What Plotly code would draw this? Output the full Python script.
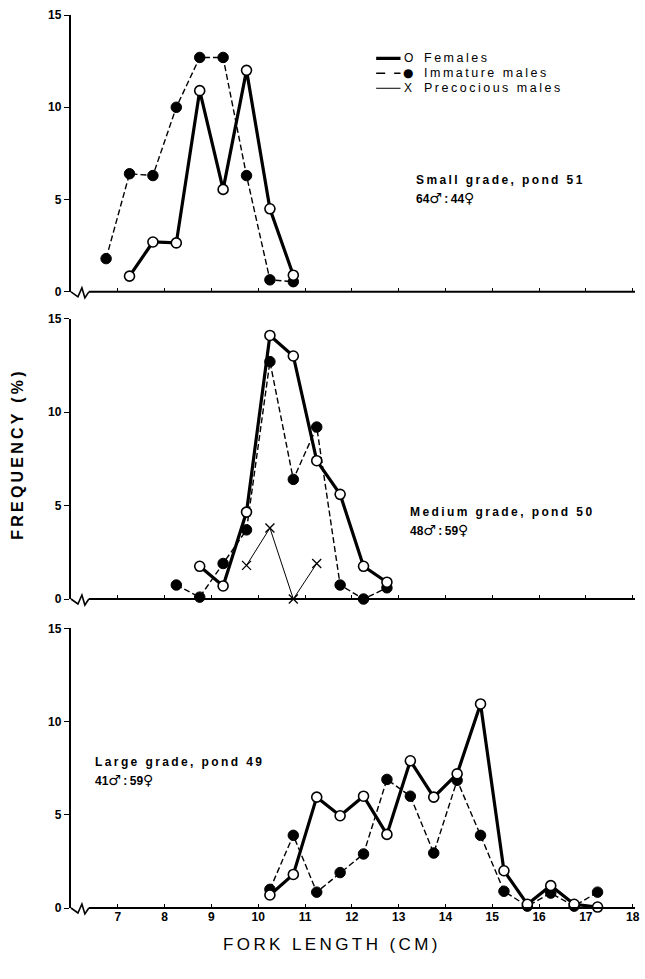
import plotly.graph_objects as go

# ---- data: fork length class midpoints (cm) and frequency (%) ----
small_x_f = [7.25, 7.75, 8.25, 8.75, 9.25, 9.75, 10.25, 10.75]
small_females = [0.85, 2.7, 2.65, 10.9, 5.55, 12.0, 4.5, 0.9]
small_x_m = [6.75, 7.25, 7.75, 8.25, 8.75, 9.25, 9.75, 10.25, 10.75]
small_immature = [1.8, 6.4, 6.3, 10.0, 12.7, 12.7, 6.3, 0.65, 0.55]

med_x_f = [8.75, 9.25, 9.75, 10.25, 10.75, 11.25, 11.75, 12.25, 12.75]
med_females = [1.75, 0.7, 4.65, 14.1, 13.0, 7.4, 5.6, 1.75, 0.9]
med_x_m = [8.25, 8.75, 9.25, 9.75, 10.25, 10.75, 11.25, 11.75, 12.25, 12.75]
med_immature = [0.75, 0.1, 1.9, 3.7, 12.7, 6.4, 9.2, 0.75, 0.0, 0.6]
med_x_p = [9.75, 10.25, 10.75, 11.25]
med_precocious = [1.8, 3.8, 0.0, 1.9]

large_x = [10.25, 10.75, 11.25, 11.75, 12.25, 12.75, 13.25, 13.75,
           14.25, 14.75, 15.25, 15.75, 16.25, 16.75, 17.25]
large_females = [0.7, 1.8, 5.95, 4.95, 6.0, 3.95, 7.9, 5.95,
                 7.2, 10.95, 2.0, 0.2, 1.2, 0.2, 0.05]
large_immature = [1.0, 3.9, 0.85, 1.9, 2.9, 6.9, 6.0, 2.95,
                  6.85, 3.9, 0.9, 0.1, 0.8, 0.1, 0.85]

x_ticks = [7, 8, 9, 10, 11, 12, 13, 14, 15, 16, 17, 18]
y_ticks = [0, 5, 10, 15]

FONT = "Liberation Sans"
SYMFONT = "DejaVu Sans"
INK = "black"

W, H = 645, 979
ML, MR, MT, MB = 71, 5, 15, 71
PW, PH = W - ML - MR, H - MT - MB

fig = go.Figure()

female_style = dict(mode="lines+markers", line=dict(color=INK, width=3.2),
                    marker=dict(symbol="circle", size=10, color="white",
                                line=dict(color=INK, width=1.6)),
                    cliponaxis=False, showlegend=False)
immature_style = dict(mode="lines+markers",
                      line=dict(color=INK, width=1.4, dash="6px,3px"),
                      marker=dict(symbol="circle", size=10.5, color=INK,
                                  line=dict(color=INK, width=1)),
                      cliponaxis=False, showlegend=False)
precocious_style = dict(mode="lines+markers", line=dict(color=INK, width=1),
                        marker=dict(symbol="x-thin", size=9,
                                    line=dict(color=INK, width=1.3)),
                        cliponaxis=False, showlegend=False)

# top panel: small grade
fig.add_trace(go.Scatter(x=small_x_m, y=small_immature, xaxis="x", yaxis="y", **immature_style))
fig.add_trace(go.Scatter(x=small_x_f, y=small_females, xaxis="x", yaxis="y", **female_style))
# middle panel: medium grade
fig.add_trace(go.Scatter(x=med_x_p, y=med_precocious, xaxis="x2", yaxis="y2", **precocious_style))
fig.add_trace(go.Scatter(x=med_x_m, y=med_immature, xaxis="x2", yaxis="y2", **immature_style))
fig.add_trace(go.Scatter(x=med_x_f, y=med_females, xaxis="x2", yaxis="y2", **female_style))
# bottom panel: large grade
fig.add_trace(go.Scatter(x=large_x, y=large_immature, xaxis="x3", yaxis="y3", **immature_style))
fig.add_trace(go.Scatter(x=large_x, y=large_females, xaxis="x3", yaxis="y3", **female_style))

domains = {"": [0.690, 1.0], "2": [0.346, 0.660], "3": [0.0, 0.313]}

xaxis_common = dict(range=[6, 18.05], tickvals=x_ticks, ticks="inside", ticklen=4,
                    tickwidth=1.3, tickcolor=INK, showline=False, showgrid=False,
                    zeroline=False,
                    tickfont=dict(family=FONT, size=12, color=INK, weight="bold"))
yaxis_common = dict(range=[0, 15], tickvals=y_ticks, ticks="outside", ticklen=5,
                    tickwidth=1.3, tickcolor=INK, showline=True, linewidth=2.4,
                    linecolor=INK, showgrid=False, zeroline=False,
                    tickfont=dict(family=FONT, size=12, color=INK, weight="bold"))

layout = dict(
    width=W, height=H,
    margin=dict(l=ML, r=MR, t=MT, b=MB),
    paper_bgcolor="white", plot_bgcolor="white",
    showlegend=False,
)
for k, dom in domains.items():
    layout["xaxis" + k] = dict(xaxis_common, anchor="y" + k,
                               showticklabels=(k == "3"))
    layout["yaxis" + k] = dict(yaxis_common, anchor="x" + k, domain=dom)
fig.update_layout(**layout)

# x-axis baselines with the broken-axis zigzag near the origin
zig = [(0, 0), (7, -5), (11, 4), (14, -6), (18, 0)]   # pixel offsets
shapes = []
for k, dom in domains.items():
    base = dom[0]
    shapes.append(dict(type="line", xref="x" + k, yref="paper", x0=6.38, x1=18.05,
                       y0=base, y1=base, line=dict(color=INK, width=2)))
    pts = " L ".join(f"{dx / PW:.5f},{base + dy / PH:.5f}" for dx, dy in zig)
    shapes.append(dict(type="path", xref="paper", yref="paper", path="M " + pts,
                       line=dict(color=INK, width=1.6)))

# hand-drawn key in the top panel
key_rows = [("solid", 3.2, 12.65, "O", FONT, 12, "Females"),
            ("dash", 1.6, 11.84, "●", SYMFONT, 12, "Immature males"),
            ("solid", 1.0, 11.03, "X", FONT, 12, "Precocious males")]
annotations = []
for dash, w, yv, mark, mfont, msize, label in key_rows:
    shapes.append(dict(type="line", xref="x", yref="y", x0=12.52, x1=13.04, y0=yv, y1=yv,
                       line=dict(color=INK, width=w, dash=dash)))
    annotations.append(dict(xref="x", yref="y", x=13.2, y=yv, text=mark, showarrow=False,
                            xanchor="center", yanchor="middle",
                            font=dict(family=mfont, size=msize, color=INK)))
    annotations.append(dict(xref="x", yref="y", x=13.5, y=yv,
                            text="\u2009".join(label), showarrow=False,
                            xanchor="left", yanchor="middle",
                            font=dict(family=FONT, size=12.5, color=INK)))


def sym(ch):
    return f"<span style='font-family:{SYMFONT};font-size:14px'>{ch}</span>"


# panel captions
captions = [("x", "y", 13.32, 6.05, 5.1, "Small grade, pond 51", ("64", "44")),
            ("x2", "y2", 13.21, 4.65, 3.7, "Medium grade, pond 50", ("48", "59")),
            ("x3", "y3", 6.46, 7.84, 6.87, "Large grade, pond 49", ("41", "59"))]
for xr, yr, xv, y1, y2, line1, (nm, nf) in captions:
    annotations.append(dict(xref=xr, yref=yr, x=xv, y=y1, text="\u2009".join(line1),
                            showarrow=False, xanchor="left", yanchor="middle",
                            font=dict(family=FONT, size=12, color=INK, weight="bold")))
    annotations.append(dict(xref=xr, yref=yr, x=xv, y=y2,
                            text=f"{nm}{sym('♂')}\u2009:\u2009{nf}{sym('♀')}",
                            showarrow=False, xanchor="left", yanchor="middle",
                            font=dict(family=FONT, size=12, color=INK, weight="bold")))

# axis titles
annotations.append(dict(xref="paper", yref="paper", x=0.46, y=-0.0414,
                        text="\u2009".join("FORK LENGTH (CM)"), showarrow=False,
                        xanchor="center", yanchor="middle",
                        font=dict(family=FONT, size=17, color=INK)))
annotations.append(dict(xref="paper", yref="paper", x=-0.095, y=0.507,
                        text="\u2009".join("FREQUENCY (%)"), showarrow=False,
                        textangle=-90, xanchor="center", yanchor="middle",
                        font=dict(family=FONT, size=16, color=INK, weight="bold")))

fig.update_layout(shapes=shapes, annotations=annotations)
fig.write_html("out.html")
